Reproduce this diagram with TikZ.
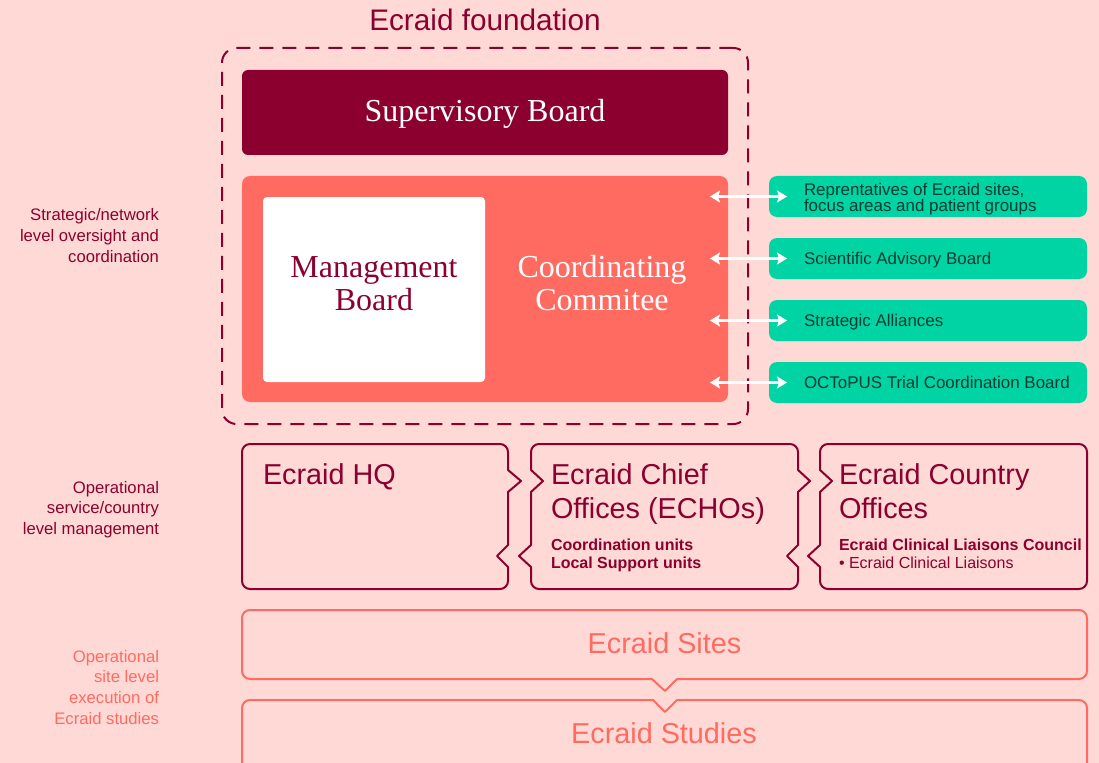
\documentclass[tikz,border=0pt]{standalone}
\usepackage{fontspec}
\setmainfont{Liberation Sans}
\newfontfamily\serifface{Liberation Serif}
\usetikzlibrary{arrows.meta}

\definecolor{bgpink}{HTML}{FFD9D6}
\definecolor{crimson}{HTML}{8C0030}
\definecolor{coral}{HTML}{FF6B61}
\definecolor{mint}{HTML}{00D4A5}
\definecolor{mintink}{HTML}{0B3A30}

\newcommand{\fsz}[2]{\fontsize{#1}{#2}\selectfont}

\begin{document}
\begin{tikzpicture}[x=0.75pt,y=-0.75pt,
  every node/.style={inner sep=0pt, outer sep=0pt},
  panel/.style={rounded corners=6pt, minimum width=364.5pt},
  greenbox/.style={fill=mint, rounded corners=6pt, minimum width=238.5pt, minimum height=30.75pt},
  greentext/.style={anchor=base west, text=mintink, font=\fsz{12.7}{12}, align=left},
  biarrow/.style={draw=white, line width=1.8pt,
    {Stealth[length=7.5pt,width=9pt,inset=1.5pt]}-{Stealth[length=7.5pt,width=9pt,inset=1.5pt]}},
  crimsonline/.style={draw=crimson, line width=1.5pt, line join=round, line cap=round},
  coralline/.style={draw=coral, line width=1.5pt, line join=round, line cap=round},
  officetitle/.style={anchor=base west, text=crimson, font=\fsz{21.6}{25.5}, align=left},
  officesub/.style={anchor=base west, text=crimson, font=\fsz{12}{13.5}, align=left},
  sidelabel/.style={anchor=base east, font=\fsz{12.5}{15.4}, align=right},
  sitetext/.style={anchor=base, text=coral, font=\fsz{21.6}{26}},
]
% canvas
\path[use as bounding box, fill=bgpink] (0,0) rectangle (1099,763);
\clip (0,0) rectangle (1099,763);

% title and foundation frame (multi-line nodes are placed by their last baseline)
\node (title) [anchor=base, text=crimson, font=\fsz{22.3}{26}] at (485,31) {Ecraid foundation};
\node (frame) [draw=crimson, line width=1.5pt, dash pattern=on 10.5pt off 6.75pt,
  rounded corners=11pt, minimum width=394.5pt, minimum height=282pt] at (485,236) {};

% supervisory board
\node (sb) [panel, fill=crimson, rounded corners=4.5pt, minimum height=63.75pt] at (485,112.5) {};
\node (sbt) [anchor=base, text=white, font=\serifface\fsz{24}{28}] at (485,122) {Supervisory Board};

% coordinating committee with management board
\node (cc) [panel, fill=coral, minimum height=169.5pt] at (485,289) {};
\node (mb) [fill=white, rounded corners=3pt, minimum width=166.5pt, minimum height=138.75pt] at (374,289.5) {};
\node (mbt) [anchor=base, text=crimson, font=\serifface\fsz{24}{24.75}, align=center] at (374,310) {Management\\Board};
\node (cct) [anchor=base, text=white, font=\serifface\fsz{24}{24.75}, align=center] at (602,310) {Coordinating\\Commitee};

% advisory bodies
\node (g1) [greenbox] at (928,196.5) {};
\node (g2) [greenbox] at (928,258.5) {};
\node (g3) [greenbox] at (928,320.5) {};
\node (g4) [greenbox] at (928,382.5) {};
\node (g1t) [greentext] at (804,211) {Reprentatives of Ecraid sites,\\focus areas and patient groups};
\node (g2t) [greentext] at (804,264.5) {Scientific Advisory Board};
\node (g3t) [greentext] at (804,326.5) {Strategic Alliances};
\node (g4t) [greentext] at (804,388) {OCToPUS Trial Coordination Board};

\foreach \g in {g1,g2,g3,g4}
  \draw[biarrow] ([xshift=-13.5pt]\g.west -| cc.east) -- ([xshift=13.5pt]\g.west);

% office boxes: rounded outer edges, interlocking notched sides
\draw[crimsonline, rounded corners=6pt] (508,470) -- (508,444) -- (242,444) -- (242,589) -- (508,589) -- (508,567);
\draw[crimsonline] (508,470) -- (521,481) -- (508,492) -- (508,545) -- (497,556) -- (508,567);

\draw[crimsonline, rounded corners=6pt] (531,470) -- (531,444) -- (798,444) -- (798,470);
\draw[crimsonline, rounded corners=6pt] (531,567) -- (531,589) -- (798,589) -- (798,567);
\draw[crimsonline] (531,470) -- (543,481) -- (531,492) -- (531,545) -- (519,556) -- (531,567);
\draw[crimsonline] (798,470) -- (810,481) -- (798,492) -- (798,545) -- (787,556) -- (798,567);

\draw[crimsonline, rounded corners=6pt] (820,470) -- (820,444) -- (1087,444) -- (1087,589) -- (820,589) -- (820,567);
\draw[crimsonline] (820,470) -- (832,481) -- (820,492) -- (820,545) -- (808,556) -- (820,567);

\node (hq) [officetitle] at (263,484) {Ecraid HQ};
\node (echo) [officetitle] at (551,518) {Ecraid Chief\\Offices (ECHOs)};
\node (echosub) [officesub, font=\bfseries\fsz{12}{13.5}] at (551,568.5) {Coordination units\\Local Support units};
\node (eco) [officetitle] at (839,518) {Ecraid Country\\Offices};
\node (ecosub) [officesub] at (839,568.5) {\textbf{Ecraid Clinical Liaisons Council}\\\textbullet{} Ecraid Clinical Liaisons};

% sites and studies
\draw[coralline, rounded corners=6pt] (652,679) -- (242,679) -- (242,610) -- (1087,610) -- (1087,679) -- (677,679);
\draw[coralline] (652,679) -- (665,691) -- (677,679);
\draw[coralline, rounded corners=6pt] (242,790) -- (242,700) -- (653,700);
\draw[coralline] (653,700) -- (665,712) -- (677,700);
\draw[coralline, rounded corners=6pt] (677,700) -- (1087,700) -- (1087,790);
\node (sites) [sitetext] at (664.5,653) {Ecraid Sites};
\node (studies) [sitetext] at (664,743) {Ecraid Studies};

% level labels
\node (lvl1) [sidelabel, text=crimson] at (159,262) {Strategic/network\\level oversight and\\coordination};
\node (lvl2) [sidelabel, text=crimson] at (159,534.5) {Operational\\service/country\\level management};
\node (lvl3) [sidelabel, text=coral] at (159,724) {Operational\\site level\\execution of\\Ecraid studies};
\end{tikzpicture}
\end{document}
